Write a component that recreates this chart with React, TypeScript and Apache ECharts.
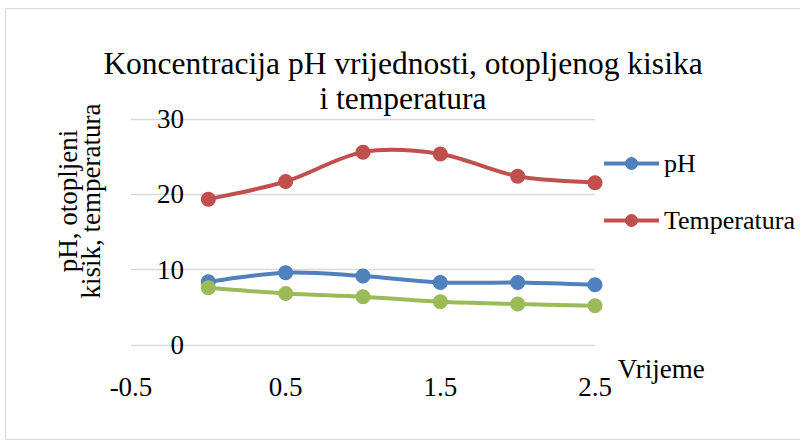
import React, { useEffect, useRef } from "react";
import * as echarts from "echarts";

const timePoints = [0, 0.5, 1, 1.5, 2, 2.5];
const phValues = [8.4, 9.6, 9.15, 8.3, 8.3, 8.0];
const temperatureValues = [19.35, 21.7, 25.6, 25.35, 22.4, 21.55];
const oxygenValues = [7.6, 6.85, 6.4, 5.75, 5.45, 5.2];

const seriesNames = ["pH", "Temperatura", "Otopljeni kisik"];
const legendNames = ["pH", "Temperatura"];
const colors = ["#4F81BD", "#C0504D", "#9BBB59"];

const titleLines = ["Koncentracija pH vrijednosti, otopljenog kisika", "i temperatura"];
const yAxisTitleLines = ["pH, otopljeni", "kisik, temperatura"];
const xAxisTitle = "Vrijeme";

const FONT = "'Liberation Serif', 'Times New Roman', serif";

function pairs(values: number[]) {
  return timePoints.map((t, i) => [t, values[i]]);
}

function curveSeries(name: string, values: number[], color: string) {
  return {
    name: name + " (krivulja)",
    type: "custom",
    silent: true,
    data: [[timePoints[0], values[0]]],
    encode: { x: 0, y: 1 },
    renderItem: (_params: any, api: any) => {
      const pts = timePoints.map((t, i) => api.coord([t, values[i]]));
      let d = `M${pts[0][0]},${pts[0][1]}`;
      for (let i = 0; i < pts.length - 1; i++) {
        const p0 = pts[i - 1] || pts[i];
        const p1 = pts[i];
        const p2 = pts[i + 1];
        const p3 = pts[i + 2] || p2;
        const c1x = p1[0] + (p2[0] - p0[0]) / 6;
        const c1y = p1[1] + (p2[1] - p0[1]) / 6;
        const c2x = p2[0] - (p3[0] - p1[0]) / 6;
        const c2y = p2[1] - (p3[1] - p1[1]) / 6;
        d += ` C${c1x},${c1y} ${c2x},${c2y} ${p2[0]},${p2[1]}`;
      }
      return {
        type: "path",
        shape: { pathData: d },
        style: { fill: "none", stroke: color, lineWidth: 4, lineCap: "round", lineJoin: "round" },
      };
    },
  };
}

export default function App() {
  const ref = useRef<HTMLDivElement>(null);

  useEffect(() => {
    document.body.style.margin = "0";
    if (!ref.current) return;
    const chart = echarts.init(ref.current, undefined, { renderer: "svg" });
    const allValues = [phValues, temperatureValues, oxygenValues];
    const series: any[] = [];
    seriesNames.forEach((name, i) => {
      series.push(curveSeries(name, allValues[i], colors[i]));
      series.push({
        name,
        type: "line",
        data: pairs(allValues[i]),
        symbol: "circle",
        symbolSize: 15,
        showSymbol: true,
        color: colors[i],
        lineStyle: { width: 4, color: colors[i], opacity: 0 },
        itemStyle: { color: colors[i] },
      });
    });
    chart.setOption({
      animation: false,
      backgroundColor: "#ffffff",
      textStyle: { fontFamily: FONT },
      grid: { left: 131, right: 205, top: 119, bottom: 99 },
      graphic: [
        {
          type: "rect",
          shape: { x: 5.5, y: 8.5, width: 820, height: 431 },
          style: { fill: "none", stroke: "#d9d9d9", lineWidth: 1 },
          silent: true,
        },
        {
          type: "text",
          x: 403,
          y: 46,
          style: {
            text: titleLines.join("\n"),
            fontFamily: FONT,
            fontSize: 31.5,
            lineHeight: 35,
            fill: "#000",
            align: "center",
            verticalAlign: "top",
          },
        },
        {
          type: "text",
          x: 79,
          y: 201,
          rotation: Math.PI / 2,
          style: {
            text: yAxisTitleLines.join("\n"),
            fontFamily: FONT,
            fontSize: 27,
            lineHeight: 23,
            fill: "#000",
            align: "center",
            verticalAlign: "middle",
          },
        },
      ],
      legend: {
        data: legendNames,
        orient: "vertical",
        left: 602,
        top: 150,
        padding: 0,
        itemWidth: 55,
        itemHeight: 16,
        itemGap: 30,
        lineStyle: { opacity: 1, width: 4 },
        textStyle: { fontFamily: FONT, fontSize: 26, lineHeight: 27, color: "#000" },
      },
      xAxis: {
        type: "value",
        min: -0.5,
        max: 2.5,
        interval: 1,
        name: xAxisTitle,
        nameLocation: "end",
        nameGap: 7,
        nameTextStyle: {
          fontFamily: FONT,
          fontSize: 27,
          lineHeight: 27,
          color: "#000",
          verticalAlign: "top",
          padding: [10, 0, 0, 0],
        },
        axisLine: { show: false },
        axisTick: { show: false },
        splitLine: { show: false },
        axisLabel: {
          fontFamily: FONT,
          fontSize: 27,
          color: "#000",
          margin: 28,
          showMinLabel: true,
          showMaxLabel: true,
        },
      },
      yAxis: {
        type: "value",
        min: 0,
        max: 30,
        interval: 10,
        offset: -77,
        axisLine: { show: false, onZero: false },
        axisTick: { show: false },
        splitLine: { show: true, lineStyle: { color: "#d9d9d9", width: 1.3 } },
        axisLabel: { fontFamily: FONT, fontSize: 27, color: "#000", margin: 24 },
      },
      series,
    });
    return () => chart.dispose();
  }, []);

  return <div ref={ref} style={{ width: 800, height: 444 }} />;
}
